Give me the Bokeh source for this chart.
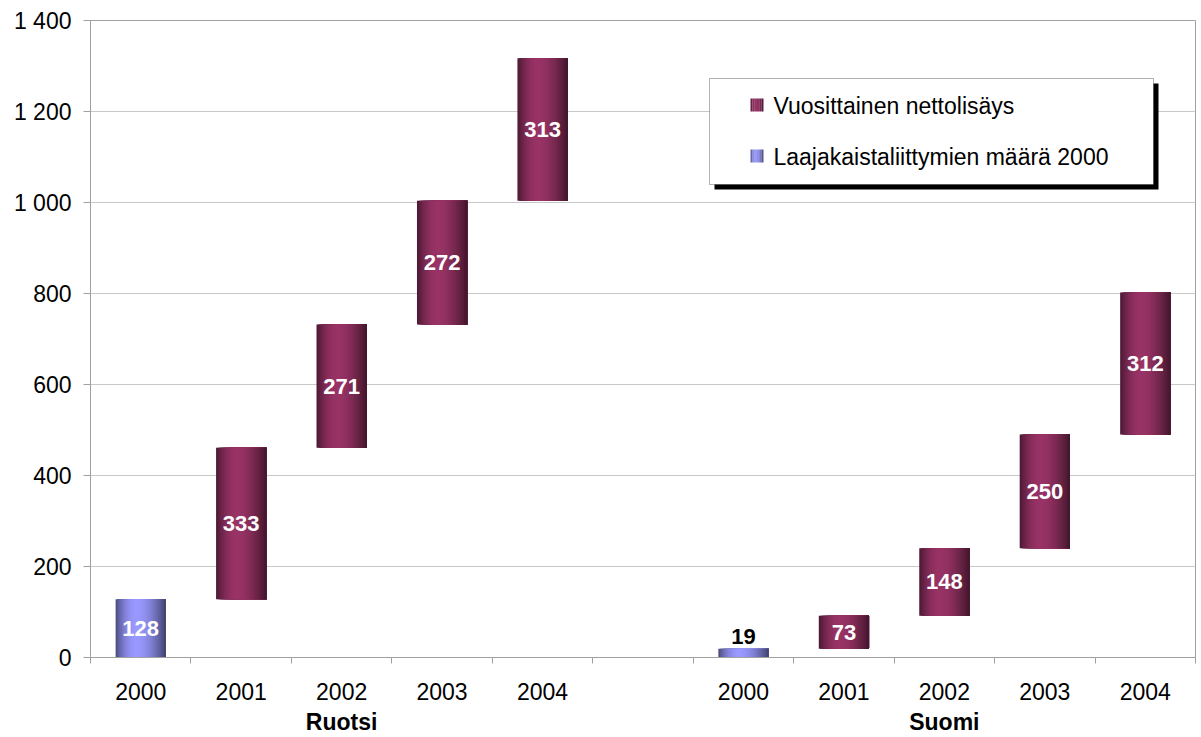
from bokeh.plotting import figure
from bokeh.models import FixedTicker, Label, BoxAnnotation, ColumnDataSource, Range1d, LinearAxis
from bokeh.core.properties import value
from bokeh.embed import file_html
from bokeh.resources import INLINE

# ---- data ----
years = ["2000", "2001", "2002", "2003", "2004"]
groups = ["Ruotsi", "Suomi"]
base_2000 = [128, 19]                 # Laajakaistaliittymien määrä 2000
ruotsi_increase = [333, 271, 272, 313]  # Vuosittainen nettolisäys
suomi_increase = [73, 148, 250, 312]
increases = [ruotsi_increase, suomi_increase]
series_names = ["Vuosittainen nettolisäys", "Laajakaistaliittymien määrä 2000"]
y_ticks = [0, 200, 400, 600, 800, 1000, 1200, 1400]

FONT = "Liberation Sans"
PURPLE = (153, 51, 102)
BLUE = (153, 153, 255)
GRAY_AXIS = "#a0a0a0"
GRAY_GRID = "#c8c8c8"


def shade(rgb, t):
    c = 0.42
    if t <= c:
        d = (c - t) / c
        f = 1 - 0.52 * d ** 2.0
    else:
        d = (t - c) / (1 - c)
        f = 1 - 0.58 * d ** 1.7
    r, g, b = (max(0, min(255, int(round(v * f)))) for v in rgb)
    return "#%02x%02x%02x" % (r, g, b)


# ---- build bars ----
bars = []  # (pos, bottom, top, kind)
group_centers = []
for gi, g in enumerate(groups):
    start = gi * (len(years) + 1)
    bars.append((start, 0, base_2000[gi], "base"))
    cum = base_2000[gi]
    for j, inc in enumerate(increases[gi]):
        bars.append((start + j + 1, cum, cum + inc, "inc"))
        cum += inc
    group_centers.append(start + (len(years) - 1) // 2)

n_slots = len(groups) * (len(years) + 1) - 1
BAR_W = 0.5
N = 32
q = dict(left=[], right=[], bottom=[], top=[], color=[])
for pos, b, t, kind in bars:
    rgb = BLUE if kind == "base" else PURPLE
    for k in range(N):
        q["left"].append(pos - BAR_W / 2 + k * BAR_W / N)
        q["right"].append(pos + BAR_W / 2)
        q["bottom"].append(b)
        q["top"].append(t)
        q["color"].append(shade(rgb, (k + 0.5) / N))

p = figure(width=1201, height=737, output_backend="svg", toolbar_location=None,
           x_range=Range1d(-0.5, n_slots - 0.5), y_range=Range1d(0, 1400),
           min_border_left=90, min_border_right=6, min_border_top=20, min_border_bottom=79)
p.background_fill_color = "white"
p.border_fill_color = "white"
p.outline_line_color = GRAY_AXIS
p.xgrid.grid_line_color = None
p.ygrid.grid_line_color = GRAY_GRID
p.ygrid.ticker = FixedTicker(ticks=y_ticks)

p.quad(left="left", right="right", bottom="bottom", top="top", fill_color="color",
       line_color=None, source=ColumnDataSource(q))

# data labels
lx, ly, lt = [], [], []
ox, oy, ot = [], [], []
for pos, b, t, kind in bars:
    v = t - b
    if v >= 40:
        lx.append(pos); ly.append((b + t) / 2); lt.append(str(v))
    else:
        ox.append(pos); oy.append(t); ot.append(str(v))
p.text(x=lx, y=ly, text=lt, text_font=value(FONT), text_font_style="bold",
       text_font_size="22px", text_color="white", text_align="center",
       text_baseline="middle")
p.text(x=ox, y=oy, text=ot, text_font=value(FONT), text_font_style="bold",
       text_font_size="22px", text_color="black", text_align="center",
       text_baseline="bottom", y_offset=-5)

# axes
centers = [pos for pos, _, _, _ in bars]
boundaries = [i - 0.5 for i in range(n_slots + 1)]
p.xaxis.ticker = FixedTicker(ticks=centers, minor_ticks=boundaries)
labels = {}
for gi in range(len(groups)):
    start = gi * (len(years) + 1)
    for j, yname in enumerate(years):
        labels[start + j] = yname
p.xaxis.major_label_overrides = labels
p.xaxis.major_tick_out = 0
p.xaxis.major_tick_in = 0
p.xaxis.minor_tick_out = 6
p.xaxis.minor_tick_in = 0
p.xaxis.minor_tick_line_color = GRAY_AXIS
p.xaxis.axis_line_color = GRAY_AXIS
p.xaxis.major_label_standoff = 19
p.xaxis.major_label_text_font = FONT
p.xaxis.major_label_text_font_size = "23px"
p.xaxis.major_label_text_color = "black"

# group labels as a second category axis
gaxis = LinearAxis(ticker=FixedTicker(ticks=group_centers, minor_ticks=[]),
                   major_label_overrides={c: g for c, g in zip(group_centers, groups)},
                   axis_line_color=None, major_tick_line_color=None,
                   minor_tick_line_color=None, major_tick_out=0, major_tick_in=0,
                   major_label_standoff=6, major_label_text_font=FONT,
                   major_label_text_font_style="bold", major_label_text_font_size="23px",
                   major_label_text_color="black")
p.add_layout(gaxis, "below")

p.yaxis.ticker = FixedTicker(ticks=y_ticks, minor_ticks=[])
p.yaxis.major_label_overrides = {v: f"{v:,}".replace(",", " ") for v in y_ticks}
p.yaxis.major_tick_out = 7
p.yaxis.major_tick_in = 0
p.yaxis.major_tick_line_color = GRAY_AXIS
p.yaxis.axis_line_color = GRAY_AXIS
p.yaxis.major_label_standoff = 12
p.yaxis.major_label_text_font = FONT
p.yaxis.major_label_text_font_size = "23px"
p.yaxis.major_label_text_color = "black"

# legend (drawn manually, screen units relative to frame)
p.add_layout(BoxAnnotation(left=624, right=1068, top=574, bottom=468,
                           left_units="screen", right_units="screen",
                           top_units="screen", bottom_units="screen",
                           fill_color="black", fill_alpha=1, line_color=None, level="overlay"))
p.add_layout(BoxAnnotation(left=619, right=1063, top=579, bottom=473,
                           left_units="screen", right_units="screen",
                           top_units="screen", bottom_units="screen",
                           fill_color="white", fill_alpha=1, line_color="black",
                           line_width=1, level="overlay"))
icon_rows = [(559, 546, PURPLE), (508, 495, BLUE)]
NI = 6
for (top, bottom, rgb), name, ty in zip(icon_rows, series_names, [552, 501]):
    for k in range(NI):
        p.add_layout(BoxAnnotation(left=660 + k * 13 / NI, right=660 + (k + 1) * 13 / NI,
                                   top=top, bottom=bottom,
                                   left_units="screen", right_units="screen",
                                   top_units="screen", bottom_units="screen",
                                   fill_color=shade(rgb, (k + 0.5) / NI), fill_alpha=1,
                                   line_color=None, level="overlay"))
    p.add_layout(Label(x=683, y=ty, x_units="screen", y_units="screen", text=name,
                       text_font=FONT, text_font_size="23px", text_baseline="middle",
                       text_color="black", level="overlay"))

open("out.html", "w").write(file_html(p, INLINE))
